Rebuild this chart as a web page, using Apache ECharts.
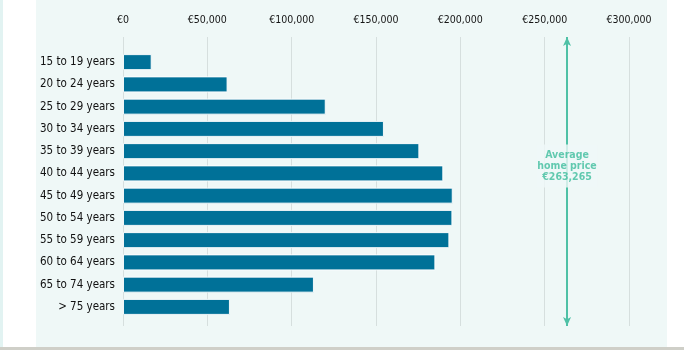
<!DOCTYPE html>
<html>
<head>
<meta charset="utf-8">
<script src="https://cdn.jsdelivr.net/npm/echarts@6/dist/echarts.min.js"></script>
<style>
  html, body { margin: 0; padding: 0; background: #ffffff; }
  #chart { width: 684px; height: 350px; }
</style>
</head>
<body>
<div id="chart"></div>
<script>
// Average home price by age group of the buyer
const ageGroups = [
  '15 to 19 years', '20 to 24 years', '25 to 29 years', '30 to 34 years',
  '35 to 39 years', '40 to 44 years', '45 to 49 years', '50 to 54 years',
  '55 to 59 years', '60 to 64 years', '65 to 74 years', '> 75 years'
];
const prices = [
  17000, 62000, 120200, 154700, 175700, 189900,
  195500, 195300, 193500, 185200, 113200, 63400
];
const averagePrice = 263265;
const priceTicks = [0, 50000, 100000, 150000, 200000, 250000, 300000];

const FONT = '"DejaVu Sans Condensed", "Liberation Sans", sans-serif';
const PANEL = '#eff8f7';

const fmtEuro = v => '€' + v.toLocaleString('en-US');

const chart = echarts.init(document.getElementById('chart'), null, { renderer: 'canvas' });

chart.setOption({
  animation: false,
  backgroundColor: '#ffffff',
  graphic: [
    { type: 'rect', z: -10, shape: { x: 0, y: 0, width: 3, height: 348 }, style: { fill: '#e2f3f2' } },
    { type: 'rect', z: -10, shape: { x: 36, y: 0, width: 631, height: 347 }, style: { fill: PANEL } },
    { type: 'rect', z: -10, shape: { x: 0, y: 347, width: 684, height: 3 }, style: { fill: '#cfcfc8' } }
  ],
  grid: [
    { left: 123, width: 506, top: 51, height: 267 },
    { left: 123, width: 506, top: 37, height: 289 }
  ],
  xAxis: [
    {
      gridIndex: 0, type: 'value', min: 0, max: 300000, interval: 50000,
      show: false
    },
    {
      gridIndex: 1, type: 'value', position: 'top',
      min: priceTicks[0], max: priceTicks[priceTicks.length - 1], interval: 50000,
      axisLine: { show: false }, axisTick: { show: false },
      axisLabel: {
        margin: 11, color: '#151515', fontFamily: FONT, fontSize: 10.5,
        formatter: fmtEuro
      },
      splitLine: { show: true, lineStyle: { color: '#d6dfde', width: 1 } }
    }
  ],
  yAxis: [
    {
      gridIndex: 0, type: 'category', data: ageGroups, inverse: true,
      axisLine: { show: false }, axisTick: { show: false },
      axisLabel: { margin: 8, color: '#111111', fontFamily: FONT, fontSize: 11.5 }
    },
    {
      gridIndex: 1, type: 'value', min: 0, max: 1, inverse: true, show: false
    }
  ],
  series: [
    {
      type: 'bar', xAxisIndex: 0, yAxisIndex: 0,
      data: prices, barWidth: 16,
      itemStyle: { color: '#007198', borderColor: 'rgba(255,255,255,0.9)', borderWidth: 1 }
    },
    {
      type: 'scatter', xAxisIndex: 1, yAxisIndex: 1,
      symbolSize: 0, z: 5,
      data: [[averagePrice, 0.446]],
      label: {
        show: true, position: 'inside',
        formatter: 'Average\nhome price\n' + fmtEuro(averagePrice),
        color: '#3dbd9c', fontFamily: FONT, fontSize: 10.5, fontWeight: 'bold',
        lineHeight: 11, align: 'center',
        backgroundColor: PANEL, padding: [5, 1]
      },
      markLine: {
        silent: true, z: 2,
        symbol: ['arrow', 'arrow'], symbolSize: [6, 9],
        label: { show: false },
        lineStyle: { color: '#4fc1a6', width: 2, type: 'solid' },
        data: [{ xAxis: averagePrice }]
      }
    }
  ]
});
</script>
</body>
</html>
